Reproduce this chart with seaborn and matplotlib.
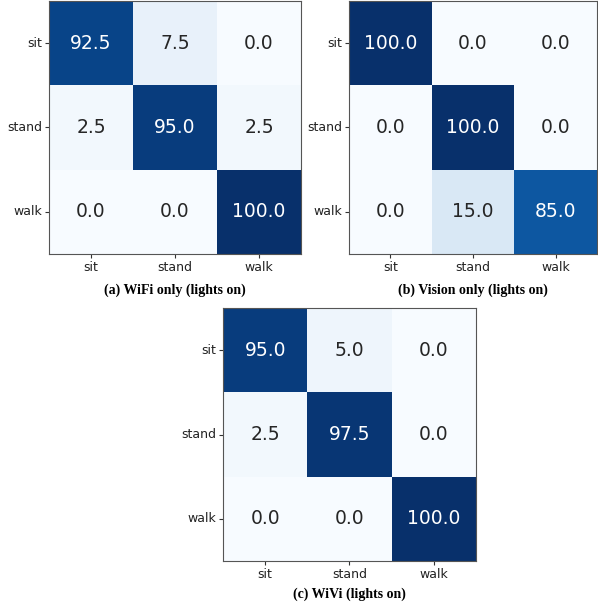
import numpy as np
import pandas as pd
import matplotlib
matplotlib.use("Agg")
import matplotlib.pyplot as plt
import seaborn as sns

labels = ["sit", "stand", "walk"]

wifi_only = [[92.5, 7.5, 0.0],
             [2.5, 95.0, 2.5],
             [0.0, 0.0, 100.0]]
vision_only = [[100.0, 0.0, 0.0],
               [0.0, 100.0, 0.0],
               [0.0, 15.0, 85.0]]
wivi = [[95.0, 5.0, 0.0],
        [2.5, 97.5, 0.0],
        [0.0, 0.0, 100.0]]

captions = ["(a) WiFi only (lights on)",
            "(b) Vision only (lights on)",
            "(c) WiVi (lights on)"]

W, H = 598, 607
fig = plt.figure(figsize=(W / 100, H / 100), dpi=100)

# axes boxes in pixels: left, top, width, height, caption offset below axes
boxes = [(49, 1, 252, 253, 36), (349, 1, 248, 253, 36), (223, 308, 253, 253, 33)]
matrices = [wifi_only, vision_only, wivi]


def draw(mat, box, caption):
    l, t, w, h, off = box
    ax = fig.add_axes([l / W, 1 - (t + h) / H, w / W, h / H])
    df = pd.DataFrame(mat, index=labels, columns=labels)
    sns.heatmap(df, ax=ax, cmap="Blues", vmin=0, vmax=100, annot=True,
                fmt=".1f", cbar=False, annot_kws={"fontsize": 13.5})
    for s in ax.spines.values():
        s.set_visible(True)
        s.set_color("#555555")
        s.set_linewidth(0.8)
    ax.tick_params(axis="both", labelsize=9, length=3, width=0.8, pad=2,
                   color="#333333", labelcolor="#222222")
    ax.set_yticklabels(labels, rotation=0)
    ax.set_xticklabels(labels, rotation=0)
    ax.set_xlabel("")
    ax.set_ylabel("")
    cx = (l + w / 2) / W
    cy = 1 - (t + h + off) / H
    fig.text(cx, cy, caption, ha="center", va="center",
             family="Liberation Serif", fontweight="bold", fontsize=10)


for m, b, c in zip(matrices, boxes, captions):
    draw(m, b, c)

fig.savefig("out.png", dpi=100, facecolor="white")
